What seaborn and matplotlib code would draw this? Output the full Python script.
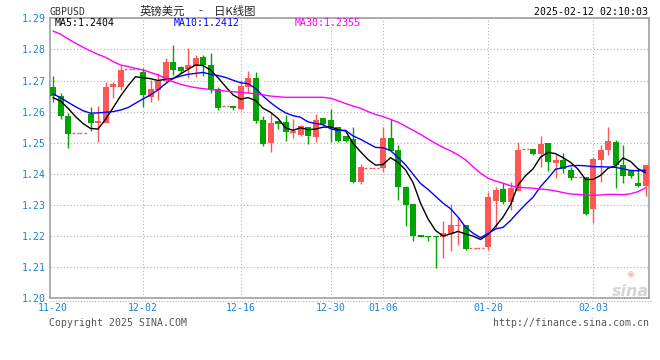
import matplotlib
matplotlib.use("Agg")
import matplotlib.pyplot as plt
from matplotlib.lines import Line2D
import seaborn as sns
import numpy as np

# daily bars, one slot per day (flat bars with high == low are drawn as dashes)
opens = [1.2680, 1.2650, 1.2586, 1.2530, 1.2530, 1.2593, 1.2565, 1.2565, 1.2678, 1.2680,
         1.2736, 1.2736, 1.2729, 1.2646, 1.2670, 1.2700, 1.2761, 1.2745, 1.2736, 1.2747,
         1.2774, 1.2750, 1.2673, 1.2618, 1.2618, 1.2610, 1.2680, 1.2709, 1.2573, 1.2500,
         1.2570, 1.2568, 1.2530, 1.2525, 1.2551, 1.2520, 1.2579, 1.2573, 1.2551, 1.2522,
         1.2512, 1.2375, 1.2418, 1.2418, 1.2420, 1.2515, 1.2477, 1.2359, 1.2303, 1.2204,
         1.2201, 1.2200, 1.2196, 1.2207, 1.2231, 1.2236, 1.2161, 1.2161, 1.2166, 1.2314,
         1.2351, 1.2311, 1.2346, 1.2479, 1.2479, 1.2464, 1.2498, 1.2436, 1.2445, 1.2413,
         1.2389, 1.2389, 1.2286, 1.2445, 1.2477, 1.2504, 1.2429, 1.2409, 1.2372, 1.2361]
highs = [1.2715, 1.2659, 1.2597, 1.2530, 1.2530, 1.2616, 1.2619, 1.2694, 1.2694, 1.2749,
         1.2736, 1.2736, 1.2739, 1.2702, 1.2723, 1.2774, 1.2814, 1.2747, 1.2804, 1.2782,
         1.2782, 1.2790, 1.2680, 1.2618, 1.2618, 1.2702, 1.2731, 1.2729, 1.2586, 1.2600,
         1.2570, 1.2589, 1.2576, 1.2557, 1.2551, 1.2592, 1.2581, 1.2608, 1.2551, 1.2522,
         1.2552, 1.2432, 1.2418, 1.2418, 1.2552, 1.2575, 1.2493, 1.2361, 1.2303, 1.2204,
         1.2201, 1.2200, 1.2249, 1.2302, 1.2257, 1.2236, 1.2161, 1.2161, 1.2343, 1.2358,
         1.2372, 1.2375, 1.2504, 1.2479, 1.2479, 1.2522, 1.2500, 1.2463, 1.2468, 1.2423,
         1.2389, 1.2389, 1.2455, 1.2493, 1.2552, 1.2509, 1.2493, 1.2409, 1.2420, 1.2429]
lows = [1.2630, 1.2575, 1.2484, 1.2530, 1.2530, 1.2539, 1.2504, 1.2565, 1.2645, 1.2670,
        1.2736, 1.2736, 1.2616, 1.2632, 1.2638, 1.2696, 1.2718, 1.2725, 1.2707, 1.2710,
        1.2715, 1.2661, 1.2605, 1.2618, 1.2605, 1.2605, 1.2661, 1.2563, 1.2491, 1.2471,
        1.2544, 1.2506, 1.2516, 1.2523, 1.2497, 1.2504, 1.2557, 1.2504, 1.2504, 1.2504,
        1.2372, 1.2368, 1.2418, 1.2418, 1.2407, 1.2471, 1.2316, 1.2234, 1.2185, 1.2198,
        1.2185, 1.2096, 1.2131, 1.2152, 1.2170, 1.2155, 1.2161, 1.2161, 1.2155, 1.2225,
        1.2303, 1.2284, 1.2346, 1.2479, 1.2461, 1.2423, 1.2409, 1.2386, 1.2402, 1.2380,
        1.2389, 1.2268, 1.2243, 1.2375, 1.2461, 1.2356, 1.2372, 1.2386, 1.2357, 1.2329]
closes = [1.2650, 1.2587, 1.2529, 1.2530, 1.2530, 1.2565, 1.2570, 1.2680, 1.2688, 1.2734,
          1.2736, 1.2736, 1.2654, 1.2673, 1.2700, 1.2761, 1.2734, 1.2731, 1.2750, 1.2774,
          1.2750, 1.2670, 1.2612, 1.2618, 1.2612, 1.2682, 1.2709, 1.2570, 1.2496, 1.2565,
          1.2560, 1.2533, 1.2539, 1.2554, 1.2523, 1.2573, 1.2560, 1.2546, 1.2506, 1.2507,
          1.2375, 1.2423, 1.2418, 1.2418, 1.2515, 1.2474, 1.2359, 1.2300, 1.2201, 1.2198,
          1.2196, 1.2196, 1.2210, 1.2236, 1.2235, 1.2160, 1.2161, 1.2161, 1.2327, 1.2348,
          1.2311, 1.2356, 1.2477, 1.2479, 1.2464, 1.2496, 1.2439, 1.2445, 1.2415, 1.2388,
          1.2389, 1.2271, 1.2448, 1.2477, 1.2506, 1.2429, 1.2393, 1.2393, 1.2361, 1.2429]

ma5 = [1.2645, 1.2634, 1.2611, 1.2584, 1.2562, 1.2546, 1.2544, 1.2575, 1.2612, 1.2650,
       1.2683, 1.2712, 1.2709, 1.2706, 1.2700, 1.2704, 1.2706, 1.2721, 1.2736, 1.2750,
       1.2748, 1.2734, 1.2709, 1.2681, 1.2654, 1.2640, 1.2645, 1.2636, 1.2611, 1.2598,
       1.2578, 1.2548, 1.2540, 1.2548, 1.2542, 1.2544, 1.2550, 1.2551, 1.2542, 1.2538,
       1.2498, 1.2471, 1.2446, 1.2428, 1.2430, 1.2452, 1.2437, 1.2413, 1.2372, 1.2306,
       1.2255, 1.2218, 1.2200, 1.2207, 1.2215, 1.2207, 1.2200, 1.2189, 1.2205, 1.2231,
       1.2261, 1.2301, 1.2364, 1.2394, 1.2416, 1.2454, 1.2469, 1.2465, 1.2452, 1.2437,
       1.2415, 1.2382, 1.2382, 1.2395, 1.2418, 1.2426, 1.2451, 1.2440, 1.2416, 1.2404]
ma10 = [1.2657, 1.2645, 1.2630, 1.2616, 1.2603, 1.2595, 1.2596, 1.2598, 1.2600, 1.2605,
        1.2613, 1.2627, 1.2641, 1.2654, 1.2670, 1.2690, 1.2707, 1.2714, 1.2720, 1.2723,
        1.2726, 1.2720, 1.2716, 1.2710, 1.2701, 1.2693, 1.2690, 1.2675, 1.2650, 1.2629,
        1.2611, 1.2596, 1.2587, 1.2582, 1.2567, 1.2562, 1.2558, 1.2545, 1.2539, 1.2540,
        1.2522, 1.2511, 1.2498, 1.2485, 1.2484, 1.2475, 1.2453, 1.2429, 1.2399, 1.2369,
        1.2350, 1.2328, 1.2306, 1.2288, 1.2261, 1.2229, 1.2209, 1.2195, 1.2208, 1.2223,
        1.2228, 1.2250, 1.2277, 1.2302, 1.2325, 1.2359, 1.2386, 1.2415, 1.2420, 1.2426,
        1.2427, 1.2426, 1.2423, 1.2423, 1.2422, 1.2421, 1.2416, 1.2411, 1.2410, 1.2412]
ma30 = [1.2859, 1.2849, 1.2834, 1.2820, 1.2807, 1.2795, 1.2784, 1.2775, 1.2761, 1.2750,
        1.2745, 1.2739, 1.2734, 1.2726, 1.2718, 1.2707, 1.2696, 1.2688, 1.2682, 1.2677,
        1.2674, 1.2671, 1.2669, 1.2666, 1.2664, 1.2662, 1.2660, 1.2657, 1.2654, 1.2650,
        1.2648, 1.2646, 1.2646, 1.2646, 1.2646, 1.2646, 1.2646, 1.2643, 1.2635, 1.2626,
        1.2618, 1.2611, 1.2600, 1.2591, 1.2584, 1.2575, 1.2566, 1.2553, 1.2540, 1.2527,
        1.2512, 1.2498, 1.2485, 1.2474, 1.2461, 1.2445, 1.2423, 1.2402, 1.2386, 1.2377,
        1.2370, 1.2362, 1.2357, 1.2355, 1.2354, 1.2351, 1.2349, 1.2345, 1.2340, 1.2335,
        1.2334, 1.2332, 1.2331, 1.2332, 1.2334, 1.2334, 1.2333, 1.2336, 1.2343, 1.2355]

date_pos = [0, 12, 25, 37, 44, 58, 72]
date_labels = ['11-20', '12-02', '12-16', '12-30', '01-06', '01-20', '02-03']
price_ticks = [1.20, 1.21, 1.22, 1.23, 1.24, 1.25, 1.26, 1.27, 1.28, 1.29]

UP = '#ff5757'
DOWN = '#00a300'
AXIS_BLUE = '#1585d6'

sns.set_style("white")
plt.rcParams['font.family'] = ['DejaVu Sans Mono', 'Noto Sans CJK SC']

fig = plt.figure(figsize=(6.6, 3.6), dpi=100)
ax = fig.add_axes([50 / 660, 61.7 / 360, 599.3 / 660, 280 / 360])

x = np.arange(len(closes))
o, h, l, c = (np.array(v) for v in (opens, highs, lows, closes))
flat = h == l
up = c >= o
colors = np.where(up, UP, DOWN)

# wicks and bodies
real = ~flat
ax.vlines(x[real], l[real], h[real], colors=colors[real], linewidth=1, zorder=2)
body = np.maximum(np.abs(c - o), 0.0003)
ax.bar(x[real], body[real], bottom=np.minimum(o, c)[real], width=0.8,
       color=colors[real], linewidth=0, zorder=3)
# no-trade days: dashed line at previous close
for i in x[flat]:
    ax.hlines(c[i], i - 0.5, i + 0.5, colors=UP, linestyles=(0, (2, 1.5)),
              linewidth=1, zorder=3)

# moving averages
sns.lineplot(x=x, y=ma5, color='black', linewidth=1, ax=ax, zorder=4)
sns.lineplot(x=x, y=ma10, color='#0000ff', linewidth=1, ax=ax, zorder=4)
sns.lineplot(x=x, y=ma30, color='#ff00ff', linewidth=1, ax=ax, zorder=4)

ax.set_xlim(-0.4, 79.5)
ax.set_ylim(1.20, 1.29)
ax.set_yticks(price_ticks)
ax.set_yticklabels([f'{v:.2f}' for v in price_ticks])
ax.set_xticks(date_pos)
ax.set_xticklabels(date_labels)
ax.tick_params(axis='y', length=0, pad=3, labelsize=7.1, labelcolor=AXIS_BLUE)
ax.tick_params(axis='x', length=0, pad=3.5, labelsize=7.1, labelcolor=AXIS_BLUE)
ax.set_xlabel('')
ax.set_ylabel('')

ax.yaxis.grid(True, linestyle=(0, (1, 2)), color='#b0b0b0', linewidth=0.8)
ax.xaxis.grid(False)
for p in date_pos[1:]:
    ax.axvline(p, linestyle=(0, (1, 2)), color='#b0b0b0', linewidth=0.8, zorder=1)
ax.set_axisbelow(True)
for s in ax.spines.values():
    s.set_color('#a0a0a0')
    s.set_linewidth(1.2)

# dotted rule under the chart
fig.add_artist(Line2D([50 / 660, 652 / 660], [1 - 301 / 360] * 2,
                      linestyle=(0, (1, 1.5)), color='#b0b0b0', linewidth=0.8))

# header
fig.text(50 / 660, 1 - 11.7 / 360, 'GBPUSD', fontsize=7.1, color='#333333',
         ha='left', va='center')
cjk = ['Noto Sans CJK SC', 'DejaVu Sans']
fig.text(140 / 660, 1 - 11 / 360, '英镑美元', fontsize=8.2, family=cjk,
         ha='left', va='center')
fig.text(200 / 660, 1 - 11 / 360, '-', fontsize=8.2, family=cjk,
         ha='center', va='center')
fig.text(214 / 660, 1 - 11 / 360, '日K线图', fontsize=8.2, family=cjk,
         ha='left', va='center')
fig.text(648 / 660, 1 - 12.3 / 360, '2025-02-12 02:10:03', fontsize=7.1,
         color='black', ha='right', va='center')

fig.text(55 / 660, 1 - 23.5 / 360, f'MA5:{ma5[-1]:.4f}', fontsize=7.1,
         color='black', ha='left', va='center')
fig.text(174 / 660, 1 - 23.5 / 360, f'MA10:{ma10[-1]:.4f}', fontsize=7.1,
         color='#0000ff', ha='left', va='center')
fig.text(295 / 660, 1 - 23.5 / 360, f'MA30:{ma30[-1]:.4f}', fontsize=7.1,
         color='#ff00ff', ha='left', va='center')

# footer
fig.text(49 / 660, 1 - 323.3 / 360, 'Copyright 2025 SINA.COM', fontsize=7.1,
         color='#555555', ha='left', va='center')
fig.text(649 / 660, 1 - 323.3 / 360, 'http://finance.sina.com.cn', fontsize=7.1,
         color='#555555', ha='right', va='center')

# watermark
fig.text(630 / 660, 1 - 291 / 360, 'sina', fontsize=11.5, style='italic',
         weight='bold', family='DejaVu Sans', color='#d4d4d4',
         ha='center', va='center')
fig.text(630 / 660, 1 - 274 / 360, '◉', fontsize=6.5, family='DejaVu Sans',
         color='#f0c0c0', ha='center', va='center')

fig.savefig('out.png', dpi=100, facecolor='white')
